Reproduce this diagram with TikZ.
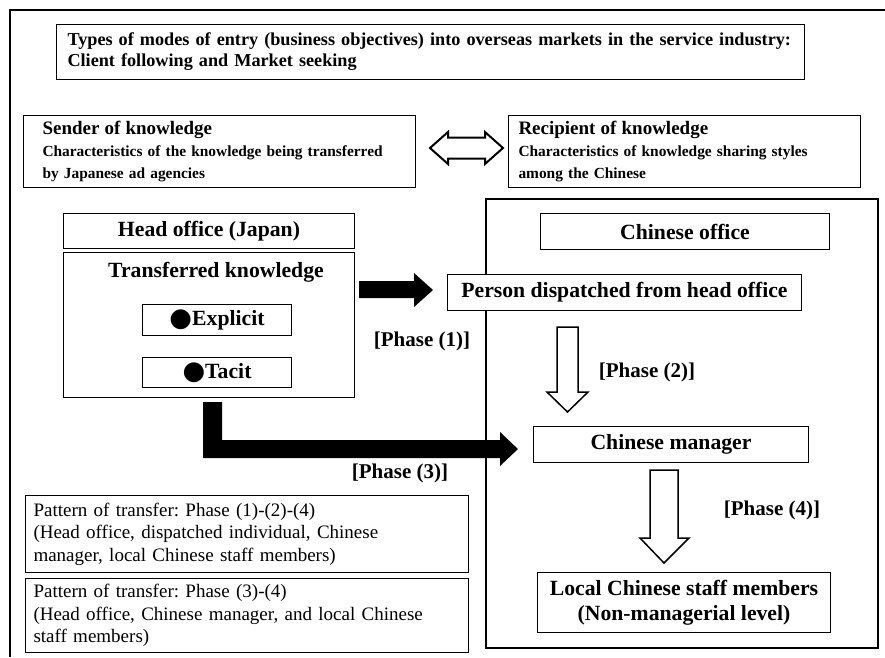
\documentclass[tikz,border=0pt]{standalone}
\usepackage{fontspec}
\setmainfont{Liberation Serif}
\newfontfamily\symfont{DejaVu Sans}
\frenchspacing
\hyphenpenalty=10000
\exhyphenpenalty=10000
\newcommand{\bigdot}{{\symfont\fontsize{26}{26}\selectfont\raisebox{-0.5pt}{●}}}
\begin{document}
\begin{tikzpicture}[x=1pt,y=-1pt,
  box/.style={draw, fill=white, line width=1pt, inner sep=0pt, anchor=north west},
  leftbox/.style={box, align=left, inner xsep=#1, inner ysep=0pt},
  frame/.style={line width=2pt},
  solidarrow/.style={fill=black},
  hollowarrow/.style={draw, fill=white, line width=1.5pt, line join=miter},
  phase/.style={font=\bfseries\fontsize{21}{24}\selectfont, inner sep=0pt},
  bigbold/.style={font=\bfseries\fontsize{21.7}{25}\selectfont}
]
\useasboundingbox (0,0) rectangle (885,657);

% outer frame (open to the right and bottom)
\draw[frame] (10,657) -- (10,10) -- (885,10);

% heading
\node[leftbox=11, minimum height=55, text width=726,
      font=\bfseries\fontsize{18.2}{21}\selectfont] (title) at (56,24)
  {Types of modes of entry (business objectives) into overseas markets in the service industry:\\
   Client following and Market seeking};

% sender / recipient
\node[leftbox=19, minimum height=72, text width=354,
      font=\bfseries\fontsize{15.4}{22}\selectfont] (sender) at (23,115)
  {{\fontsize{19}{22}\selectfont Sender of knowledge}\\
   Characteristics of the knowledge being transferred\\
   by Japanese ad agencies};
\node[leftbox=10, minimum height=72, text width=332,
      font=\bfseries\fontsize{15.4}{22}\selectfont] (recipient) at (508,115)
  {{\fontsize{19}{22}\selectfont Recipient of knowledge}\\
   Characteristics of knowledge sharing styles\\
   among the Chinese};

% two-way arrow between sender and recipient
\draw[hollowarrow, line width=2pt] (430,148) -- (448,132) -- (448,137.5) -- (485,137.5)
  -- (485,132) -- (503,148) -- (485,164) -- (485,158.5) -- (448,158.5) -- (448,164) -- cycle;

% Chinese office frame (drawn first so the boxes sit on top of it)
\node[box, fill=none, line width=2pt, minimum width=392, minimum height=449] (cnframe) at (485,198) {};

% head office
\node[box, bigbold, minimum width=291, minimum height=35] (hohead) at (63,213) {Head office (Japan)};
\node[box, minimum width=291, minimum height=145] (hobody) at (63,252) {};
\node[bigbold, inner sep=0pt] (tk) at (216,272) {Transferred knowledge};
\node[box, bigbold, minimum width=149, minimum height=31] (explicit) at (142,304) {\bigdot Explicit};
\node[box, bigbold, minimum width=149, minimum height=30] (tacit) at (142,357) {\bigdot Tacit};

% Chinese office contents
\node[box, bigbold, minimum width=289, minimum height=36] (cnhead) at (540,213) {Chinese office};
\node[box, bigbold, minimum width=354, minimum height=36] (dispatched) at (447,274) {Person dispatched from head office};
\node[box, bigbold, minimum width=275, minimum height=36] (manager) at (533,426) {Chinese manager};
\node[box, bigbold, minimum width=293, minimum height=60, align=center] (staff) at (537,572)
  {Local Chinese staff members\\(Non-managerial level)};

% phase (1): head office -> dispatched person
\fill[solidarrow] (359,281) -- (414,281) -- (414,273) -- (433,290) -- (414,307)
  -- (414,298) -- (359,298) -- cycle;
\node[phase] (p1) at (422,341) {[Phase (1)]};

% phase (2): dispatched person -> Chinese manager
\draw[hollowarrow] (557,327) -- (578,327) -- (578,392) -- (588,392) -- (567.5,412)
  -- (547,392) -- (557,392) -- cycle;
\node[phase] (p2) at (647,372) {[Phase (2)]};

% phase (3): head office -> Chinese manager
\fill[solidarrow] (203,402) -- (222,402) -- (222,440) -- (500,440) -- (500,432) -- (518,449)
  -- (500,466) -- (500,458) -- (203,458) -- cycle;
\node[phase] (p3) at (400,473) {[Phase (3)]};

% phase (4): Chinese manager -> local staff
\draw[hollowarrow] (650,470) -- (678,470) -- (678,538) -- (689,538) -- (664,563)
  -- (640,538) -- (650,538) -- cycle;
\node[phase] (p4) at (772,510) {[Phase (4)]};

% transfer patterns
\node[leftbox=8, minimum height=77, text width=427,
      font=\fontsize{19}{22.5}\selectfont] (pattern1) at (25,495)
  {Pattern of transfer: Phase (1)-(2)-(4)\\
   (Head office, dispatched individual, Chinese\\
   manager, local Chinese staff members)};
\node[leftbox=8, minimum height=74, text width=427,
      font=\fontsize{19}{22.5}\selectfont] (pattern2) at (25,578)
  {Pattern of transfer: Phase (3)-(4)\\
   (Head office, Chinese manager, and local Chinese\\
   staff members)};
\end{tikzpicture}
\end{document}
